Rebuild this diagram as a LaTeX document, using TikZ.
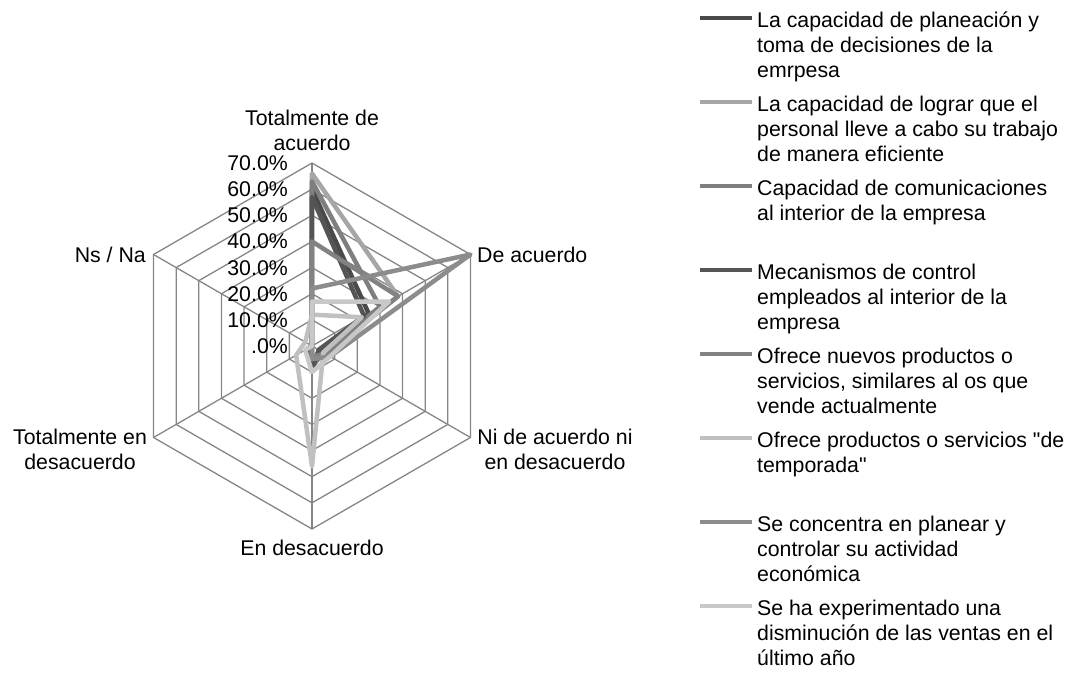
\documentclass[tikz,border=0pt]{standalone}
\usepackage{fontspec}
\setmainfont{Liberation Sans}
\definecolor{gridgray}{HTML}{868686}
\definecolor{cA}{HTML}{4A4A4A}
\definecolor{cB}{HTML}{A6A6A6}
\definecolor{cC}{HTML}{7F7F7F}
\definecolor{cD}{HTML}{555555}
\definecolor{cE}{HTML}{828282}
\definecolor{cF}{HTML}{C0C0C0}
\definecolor{cG}{HTML}{8C8C8C}
\definecolor{cH}{HTML}{C8C8C8}
\newcommand\radarpoly[7]{\draw[ser,#1] (90:#2*2.614) -- (30:#3*2.614) -- (-30:#4*2.614) -- (-90:#5*2.614) -- (210:#6*2.614) -- (150:#7*2.614) -- cycle;}
\newcommand\legentry[4]{%
  \draw[legline,#1] (388,#2) -- (440,#2);
  \node[lbl,anchor=base west] at (445,#3) {\begin{tabular}[t]{@{}l@{}}#4\end{tabular}};}
\begin{document}
\begin{tikzpicture}[x=1pt,y=1pt,
  grid/.style={draw=gridgray, line width=1.3pt},
  ser/.style={line width=4.5pt, line join=round},
  legline/.style={line width=4.5pt},
  lbl/.style={inner sep=0pt, font=\fontsize{21.3}{25}\selectfont},
]
\useasboundingbox (-312,-327) rectangle (754,346);
% grid
\foreach \k in {1,...,7}
  \draw[grid] (90:\k*26.14) -- (30:\k*26.14) -- (-30:\k*26.14) -- (-90:\k*26.14) -- (210:\k*26.14) -- (150:\k*26.14) -- cycle;
\foreach \a in {90,30,-30,-90,210,150}
  \draw[grid] (0,0) -- (\a:183);
% tick labels
\foreach \k/\t in {0/.0\%,1/10.0\%,2/20.0\%,3/30.0\%,4/40.0\%,5/50.0\%,6/60.0\%,7/70.0\%}
  \node[lbl,anchor=base east] at (-24,\k*26.14-7.5) {\t};
% series
\radarpoly{cA}{60}{25}{3}{10}{2}{0}
\radarpoly{cB}{66}{38}{6}{6}{0}{0}
\radarpoly{cC}{63}{30}{5}{8}{0}{0}
\radarpoly{cD}{57}{23}{3}{9}{0}{0}
\radarpoly{cE}{40}{38}{6}{4}{0}{0}
\radarpoly{cF}{12}{22}{5}{46}{7}{3}
\radarpoly{cG}{22}{70}{8}{5}{0}{0}
\radarpoly{cH}{17}{34}{8}{10}{3}{0}
% category labels
\node[lbl,anchor=base] (c1) at (0,220.5) {\begin{tabular}[t]{@{}c@{}}Totalmente de\\acuerdo\end{tabular}};
\node[lbl,anchor=base west] (c2) at (165,83.5) {De acuerdo};
\node[lbl,anchor=base] (c3) at (243,-98.5) {\begin{tabular}[t]{@{}c@{}}Ni de acuerdo ni\\en desacuerdo\end{tabular}};
\node[lbl,anchor=base] (c4) at (0,-209.5) {En desacuerdo};
\node[lbl,anchor=base] (c5) at (-232,-98.5) {\begin{tabular}[t]{@{}c@{}}Totalmente en\\desacuerdo\end{tabular}};
\node[lbl,anchor=base east] (c6) at (-166,83.5) {Ns / Na};
% legend
\legentry{cA}{328}{318.5}{La capacidad de planeación y\\toma de decisiones de la\\emrpesa}
\legentry{cB}{244}{234.5}{La capacidad de lograr que el\\personal lleve a cabo su trabajo\\de manera eficiente}
\legentry{cC}{160}{150.5}{Capacidad de comunicaciones\\al interior de la empresa}
\legentry{cD}{76}{66.5}{Mecanismos de control\\empleados al interior de la\\empresa}
\legentry{cE}{-8}{-17.5}{Ofrece nuevos productos o\\servicios, similares al os que\\vende actualmente}
\legentry{cF}{-92}{-101.5}{Ofrece productos o servicios \textquotedbl de\\temporada\textquotedbl}
\legentry{cG}{-176}{-185.5}{Se concentra en planear y\\controlar su actividad\\económica}
\legentry{cH}{-260}{-269.5}{Se ha experimentado una\\disminución de las ventas en el\\último año}
\end{tikzpicture}
\end{document}
